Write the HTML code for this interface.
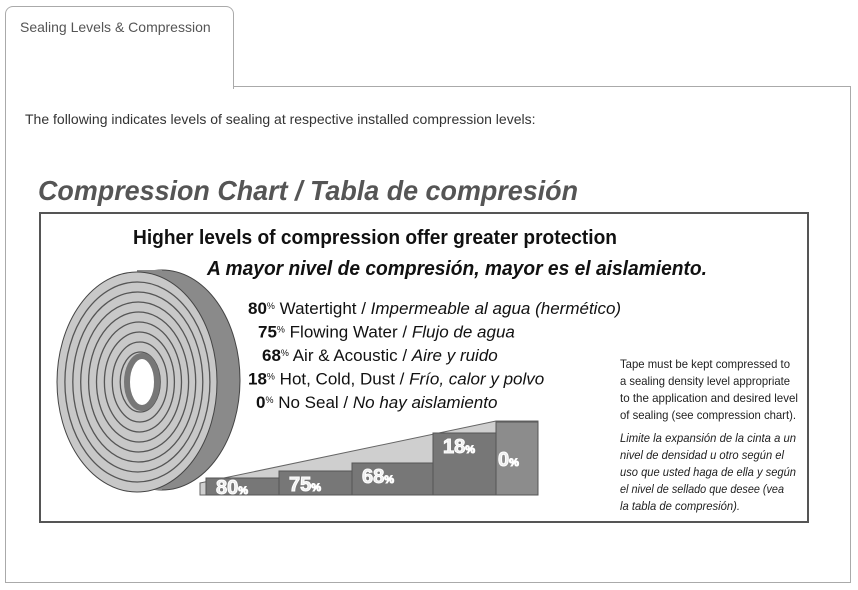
<!DOCTYPE html>
<html><head><meta charset="utf-8"><style>
body{margin:0;width:858px;height:590px;background:#fff;overflow:hidden;font-family:"Liberation Sans",sans-serif;}
.tab{position:absolute;left:5px;top:6px;width:227px;height:82px;border:1px solid #aaa;border-bottom:none;border-radius:8px 8px 0 0;background:#fff;z-index:2;}
.tab span{position:absolute;left:14px;top:12px;font-size:14px;color:#555;}
.panel{position:absolute;left:5px;top:86px;width:844px;height:495px;border:1px solid #aaa;}
.intro{position:absolute;left:25px;top:111px;font-size:14px;color:#333;}
svg{position:absolute;left:0;top:0;}
</style></head><body>
<div class="panel"></div>
<div class="tab"><span>Sealing Levels &amp; Compression</span></div>
<div class="intro">The following indicates levels of sealing at respective installed compression levels:</div>
<svg width="858" height="590" style="z-index:3">
<text x="38" y="200" font-size="28" font-weight="bold" font-style="italic" fill="#555" textLength="540" lengthAdjust="spacingAndGlyphs">Compression Chart / Tabla de compresión</text>
<rect x="40" y="213" width="768" height="309" fill="#fff" stroke="#555" stroke-width="2"/>
<text x="133" y="244" font-size="20" font-weight="bold" fill="#111" textLength="484" lengthAdjust="spacingAndGlyphs">Higher levels of compression offer greater protection</text>
<text x="207" y="275" font-size="20" font-weight="bold" font-style="italic" fill="#111" textLength="500" lengthAdjust="spacingAndGlyphs">A mayor nivel de compresión, mayor es el aislamiento.</text>
<g font-size="17" fill="#111" id="legend"></g>
<g font-size="12" fill="#222">
<text x="620" y="368" textLength="170" lengthAdjust="spacingAndGlyphs">Tape must be kept compressed to</text>
<text x="620" y="385" textLength="170" lengthAdjust="spacingAndGlyphs">a sealing density level appropriate</text>
<text x="620" y="402" textLength="178" lengthAdjust="spacingAndGlyphs">to the application and desired level</text>
<text x="620" y="419" textLength="176" lengthAdjust="spacingAndGlyphs">of sealing (see compression chart).</text>
<g font-style="italic">
<text x="620" y="442" textLength="176" lengthAdjust="spacingAndGlyphs">Limite la expansión de la cinta a un</text>
<text x="620" y="459" textLength="164" lengthAdjust="spacingAndGlyphs">nivel de densidad u otro según el</text>
<text x="620" y="476" textLength="176" lengthAdjust="spacingAndGlyphs">uso que usted haga de ella y según</text>
<text x="620" y="493" textLength="164" lengthAdjust="spacingAndGlyphs">el nivel de sellado que desee (vea</text>
<text x="620" y="510" textLength="120" lengthAdjust="spacingAndGlyphs">la tabla de compresión).</text>
</g></g>
<g id="roll">
<polygon points="200,483 496,421 538,421 538,495 200,495" fill="#cfcfcf" stroke="#666"/>
<ellipse cx="162" cy="380" rx="78" ry="110" fill="#8a8a8a" stroke="#444"/>
<rect x="137" y="270" width="25" height="220" fill="#8a8a8a"/>
<ellipse cx="137" cy="382" rx="80" ry="110" fill="#c8c8c8" stroke="#444"/>
</g>
<g id="steps"></g>
</svg>
<script>
const levels=["80","75","68","18","0"];
const labelsEn=["Watertight","Flowing Water","Air & Acoustic","Hot, Cold, Dust","No Seal"];
const labelsEs=["Impermeable al agua (hermético)","Flujo de agua","Aire y ruido","Frío, calor y polvo","No hay aislamiento"];
const ns="http://www.w3.org/2000/svg";
const lg=document.getElementById('legend');
const xs=[248,258,262,248,256];
levels.forEach((v,i)=>{
 const t=document.createElementNS(ns,'text');
 t.setAttribute('x',xs[i]);t.setAttribute('y',314+i*23.5);
 
 
 t.innerHTML='<tspan font-weight="bold">'+v+'</tspan><tspan font-size="9" dy="-5">%</tspan><tspan dy="5"> '+labelsEn[i].replace('&','&amp;')+' / </tspan><tspan font-style="italic">'+labelsEs[i]+'</tspan>';
 lg.appendChild(t);
});
const roll=document.getElementById('roll');
for(let k=1;k<=8;k++){
 const e=document.createElementNS(ns,'ellipse');
 e.setAttribute('cx',137+k*0.4);e.setAttribute('cy',382);
 e.setAttribute('rx',80-k*7.5);e.setAttribute('ry',110-k*10);
 e.setAttribute('fill','none');e.setAttribute('stroke','#555');e.setAttribute('stroke-width','1.3');
 
 
 roll.appendChild(e);
}
const hole=document.createElementNS(ns,'ellipse');
hole.setAttribute('cx',142);hole.setAttribute('cy',382);hole.setAttribute('rx',15);hole.setAttribute('ry',26);
hole.setAttribute('fill','#fff');hole.setAttribute('stroke','#777');hole.setAttribute('stroke-width','6');


roll.appendChild(hole);
const stepX=[206,279,352,433,496,538];
const stepTop=[478,471,463,433,422];
const st=document.getElementById('steps');
levels.forEach((v,i)=>{
 const r=document.createElementNS(ns,'rect');
 r.setAttribute('x',stepX[i]);r.setAttribute('y',stepTop[i]);
 r.setAttribute('width',stepX[i+1]-stepX[i]);r.setAttribute('height',495-stepTop[i]);
 r.setAttribute('fill',i==4?'#8c8c8c':'#777');r.setAttribute('stroke','#555');
 
 
 st.appendChild(r);
 const t=document.createElementNS(ns,'text');
 t.setAttribute('x',stepX[i]+(i==4?2:10));t.setAttribute('y',i==4?466:Math.min(494,stepTop[i]+20));
 t.setAttribute('font-size','20');t.setAttribute('font-weight','900');t.setAttribute('fill','#eee');
 t.setAttribute('stroke','#fff');t.setAttribute('stroke-width','1');
 t.innerHTML=v+'<tspan font-size="11">%</tspan>';
 
 
 st.appendChild(t);
});
</script>
</body></html>
